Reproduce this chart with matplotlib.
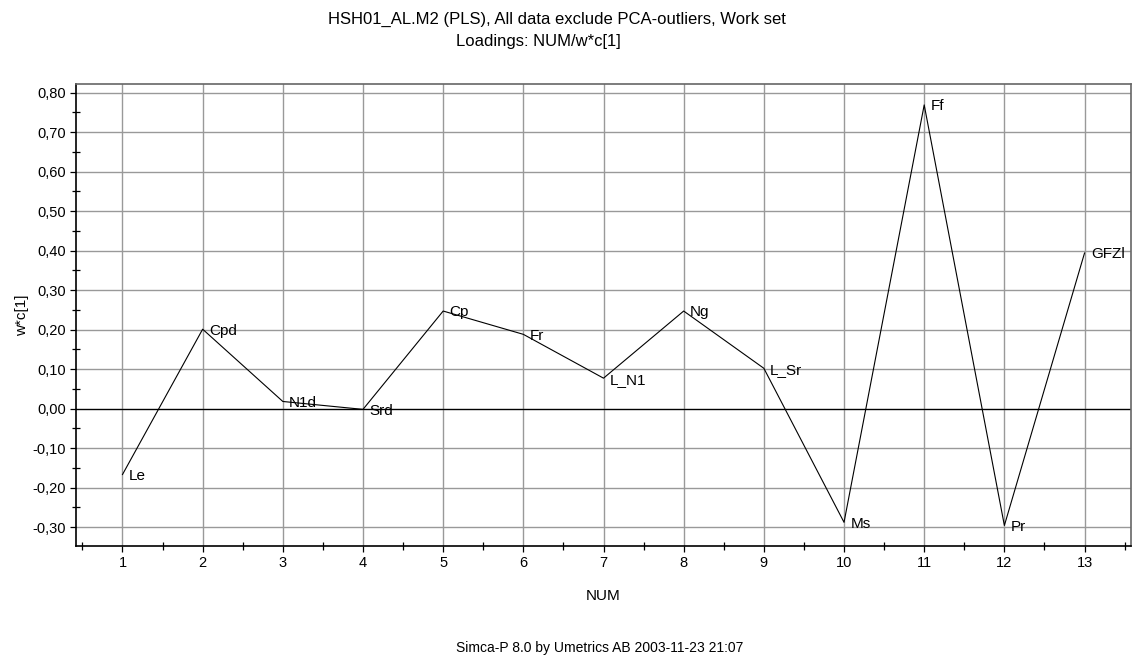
import numpy as np
import matplotlib.pyplot as plt
from matplotlib.ticker import MultipleLocator, FuncFormatter
from matplotlib import rcParams
rcParams['font.family'] = ['Liberation Sans', 'DejaVu Sans']
rcParams['font.size'] = 10

# loadings
num = [1, 2, 3, 4, 5, 6, 7, 8, 9, 10, 11, 12, 13]
wc1 = [-0.167, 0.201, 0.018, -0.002, 0.247, 0.188, 0.077, 0.247, 0.102,
       -0.288, 0.769, -0.296, 0.394]
names = ['Le', 'Cpd', 'N1d', 'Srd', 'Cp', 'Fr', 'L_N1', 'Ng', 'L_Sr',
         'Ms', 'Ff', 'Pr', 'GFZl']

fig = plt.figure(figsize=(11.34, 6.55), dpi=100)
ax = fig.add_axes([0.067, 0.1664, 0.9304, 0.7054])

ax.plot(num, wc1, color='black', lw=0.8, zorder=3)
ax.axhline(0, color='black', lw=0.9, zorder=2)
for x, y, s in zip(num, wc1, names):
    ax.annotate(s, (x, y), xytext=(4.5, -1), textcoords='offset points',
                ha='left', va='center', fontsize=11, zorder=4)

ax.set_xlim(0.42, 13.58)
ax.set_ylim(-0.348, 0.822)
ax.xaxis.set_major_locator(MultipleLocator(1))
ax.xaxis.set_minor_locator(MultipleLocator(0.5))
ax.yaxis.set_major_locator(MultipleLocator(0.1))
ax.yaxis.set_minor_locator(MultipleLocator(0.05))
ax.yaxis.set_major_formatter(FuncFormatter(lambda v, p: ('%.2f' % v).replace('.', ',').replace('-0,00', '0,00')))
ax.grid(True, which='major', color='#999999', lw=1.0, zorder=1)
ax.tick_params(which='major', direction='out', length=4, width=0.9, labelsize=10.5, pad=3)
ax.tick_params(which='minor', direction='inout', length=6, width=0.9)

for side in ['left', 'bottom']:
    ax.spines[side].set_color('black')
    ax.spines[side].set_linewidth(1.2)
for side in ['top', 'right']:
    ax.spines[side].set_color('#666666')
    ax.spines[side].set_linewidth(1.2)

ax.set_xlabel('NUM', fontsize=11, labelpad=14)
ax.set_ylabel('w*c[1]', fontsize=11, labelpad=3)

fig.text(0.491, 0.971, 'HSH01_AL.M2 (PLS), All data exclude PCA-outliers, Work set',
         ha='center', va='center', fontsize=12)
fig.text(0.4745, 0.937, 'Loadings: NUM/w*c[1]', ha='center', va='center', fontsize=12)
fig.text(0.529, 0.011, 'Simca-P 8.0 by Umetrics AB 2003-11-23 21:07',
         ha='center', va='center', fontsize=10)

plt.savefig('out.png', dpi=100)
